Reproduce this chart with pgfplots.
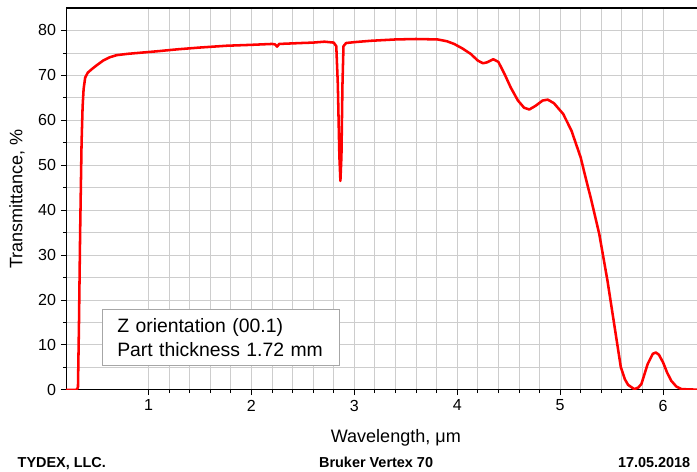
\documentclass[border=0pt]{standalone}
\usepackage{fontspec}
\setmainfont{Liberation Sans}
\usepackage{pgfplots}
\pgfplotsset{compat=1.18}

\definecolor{gridgray}{RGB}{205,205,205}

\pgfplotstableread{
x y
0.20 0
0.30 0
0.315 0.5
0.325 15
0.336 35
0.35 55
0.36 63
0.37 67
0.385 69.5
0.41 70.6
0.45 71.4
0.50 72.3
0.56 73.3
0.62 74.0
0.69 74.5
0.80 74.8
0.95 75.1
1.10 75.4
1.28 75.8
1.50 76.2
1.76 76.6
2.00 76.8
2.20 77.0
2.23 76.9
2.25 76.4
2.27 77.0
2.48 77.2
2.60 77.3
2.71 77.5
2.80 77.3
2.825 76.5
2.84 68
2.855 52
2.865 46.5
2.875 52
2.885 68
2.895 76.5
2.92 77.2
3.00 77.4
3.16 77.7
3.40 78.0
3.60 78.1
3.81 78.0
3.90 77.6
3.97 77.0
4.05 76.0
4.13 74.8
4.20 73.3
4.25 72.7
4.29 72.9
4.35 73.6
4.40 73.0
4.46 70.3
4.52 67.3
4.59 64.4
4.65 62.8
4.70 62.4
4.76 63.2
4.83 64.4
4.88 64.6
4.94 63.8
5.03 61.4
5.11 57.7
5.20 51.7
5.25 47.0
5.30 42.5
5.38 34.7
5.46 24.3
5.53 13.9
5.59 5.0
5.63 2.3
5.66 1.1
5.72 0.15
5.76 0.5
5.79 1.3
5.85 5.7
5.90 8.0
5.93 8.3
5.96 7.8
6.00 6.1
6.04 3.8
6.08 2.0
6.13 0.7
6.18 0.15
6.36 0
}\spectrum

\begin{document}
\begin{tikzpicture}
\begin{axis}[
    scale only axis,
    width=474.5pt, height=285.75pt,
    xmin=0.2, xmax=6.36,
    ymin=0, ymax=85,
    xtick={1,2,3,4,5,6},
    ytick={0,10,...,80},
    minor x tick num=4,
    minor y tick num=1,
    grid=both,
    major grid style={gridgray, line width=0.6pt},
    minor grid style={gridgray, line width=0.6pt},
    tick pos=left,
    tick align=outside,
    major tick length=4pt,
    minor tick length=2.5pt,
    tick style={black, line width=0.6pt},
    axis line style={black, line width=0.8pt},
    tick label style={font=\fontsize{12}{14}\selectfont},
    /pgf/number format/assume math mode=true,
]
\addplot[red, line width=1.9pt, line join=round] table[x=x, y=y] {\spectrum};

\node[draw=gray!70, fill=white, line width=0.6pt, anchor=north west,
      text width=155pt, minimum height=42pt, align=left,
      inner xsep=11pt, font=\fontsize{14.5}{18}\selectfont]
  at (axis cs:0.55,18) {Z orientation (00.1)\\Part thickness 1.72 mm};

\coordinate (bl) at (rel axis cs:0,0);
\coordinate (tr) at (axis cs:6.33,85);
\end{axis}

\node[rotate=90, anchor=center, font=\fontsize{13.5}{16}\selectfont]
  at ([xshift=-36.75pt, yshift=142.875pt]bl) {Transmittance, \%};
\node[anchor=center, font=\fontsize{13.5}{16}\selectfont]
  at ([xshift=246.75pt, yshift=-36pt]bl) {Wavelength, μm};

\node[anchor=base west, font=\bfseries\fontsize{10.8}{12}\selectfont]
  at ([xshift=-39.75pt, yshift=-58pt]bl) {TYDEX, LLC.};
\node[anchor=base, font=\bfseries\fontsize{10.8}{12}\selectfont]
  at ([xshift=232pt, yshift=-58pt]bl) {Bruker Vertex 70};
\node[anchor=base east, font=\bfseries\fontsize{10.8}{12}\selectfont]
  at ([xshift=-1.5pt, yshift=-58pt]tr |- bl) {17.05.2018};

\pgfresetboundingbox
\path[use as bounding box] ([xshift=-49.5pt, yshift=-61.5pt]bl) rectangle ([yshift=6pt]tr);
\end{tikzpicture}
\end{document}
